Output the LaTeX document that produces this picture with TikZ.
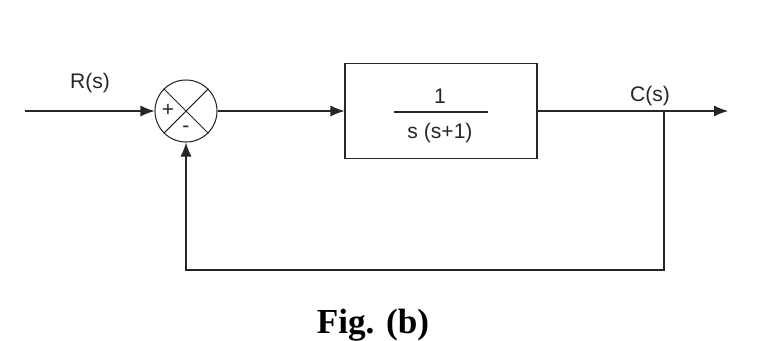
\documentclass[tikz,border=0pt]{standalone}
\usepackage{fontspec}
\setmainfont{Liberation Serif}
\setsansfont{Liberation Sans}
\usetikzlibrary{arrows.meta}
\begin{document}
\begin{tikzpicture}[
  line/.style={draw=black!85, line width=0.6pt},
  arr/.style={line, -{Latex[length=2.8mm,width=2.2mm]}},
  lbl/.style={font=\sffamily\fontsize{12}{14}\selectfont, text=black!85, inner sep=0pt},
  sumnode/.style={circle, line, minimum size=1.24cm, inner sep=0pt},
  blockbox/.style={rectangle, line, minimum width=3.84cm, minimum height=1.9cm}
]
\useasboundingbox (0,0) rectangle (15.22,6.8);
% nodes
\coordinate (in) at (0.5,4.58);
\node[sumnode] (sum) at (3.72,4.58) {};
\node[blockbox] (plant) at (8.82,4.58) {};
\node[lbl] (num) at (8.8,4.88) {1};
\node[lbl] (den) at (8.8,4.14) {s (s+1)};
\draw[line] ([xshift=-0.94cm,yshift=-0.02cm]plant.center) -- ([xshift=0.94cm,yshift=-0.02cm]plant.center);
\coordinate (out) at (14.56,4.58);
\coordinate (branch) at (13.28,4.58);
\coordinate (fbr) at (13.28,1.4);
\coordinate (fbl) at (3.72,1.4);
\node[lbl] (R) at (1.8,5.14) {R(s)};
\node[lbl] (C) at (13.0,4.88) {C(s)};
% summing junction cross and signs
\draw[line] (sum.north east) -- (sum.south west);
\draw[line] (sum.north west) -- (sum.south east);
\node[lbl] (plus) at (3.36,4.6) {+};
\node[lbl] (minus) at (3.72,4.22) {-};
% connectors
\draw[arr] (in) -- (sum.west);
\draw[arr] (sum.east) -- (plant.west);
\draw[arr] (plant.east) -- (out);
\draw[arr] (branch) -- (fbr) -- (fbl) -- (sum.south);
% caption
\node[font=\bfseries\fontsize{20}{24}\selectfont, inner sep=0pt] (cap) at (7.46,0.3) {Fig. (b)};
\end{tikzpicture}
\end{document}
